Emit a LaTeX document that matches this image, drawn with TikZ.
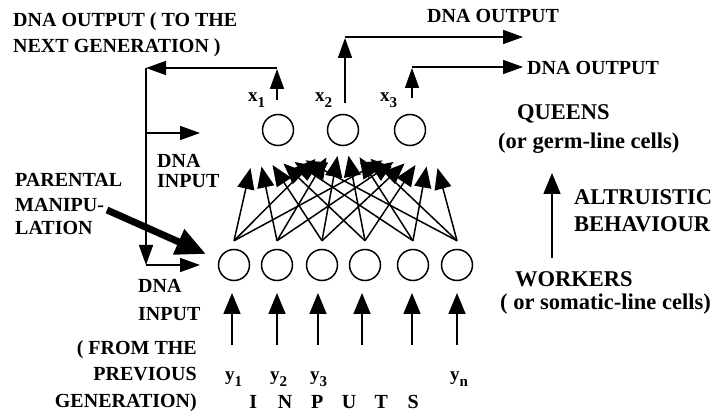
\documentclass[tikz,border=0pt]{standalone}
\usepackage{fontspec}
\setmainfont{Liberation Serif}
\usetikzlibrary{arrows.meta}
\begin{document}
\begin{tikzpicture}[x=1pt,y=-1pt,
  lbl/.style={inner sep=0pt, anchor=base west, font=\bfseries\fontsize{20}{24}\selectfont},
  lblr/.style={lbl, anchor=base east},
  biglbl/.style={lbl, font=\bfseries\fontsize{22.5}{26}\selectfont},
  varlbl/.style={inner sep=0pt, anchor=base west, font=\bfseries\fontsize{19}{22}\selectfont},
  neuron/.style={draw, circle, line width=1.5pt, minimum size=31pt, inner sep=0pt},
  arr/.style={line width=1.6pt, -{Triangle[length=20pt,width=14pt]}},
  inarr/.style={line width=1.6pt, -{Triangle[length=21pt,width=17pt]}},
  netarr/.style={line width=1.5pt, -{Triangle[length=21pt,width=17pt]}},
  bigarr/.style={line width=7pt, -{Triangle[length=30pt,width=26pt]}}
]
\useasboundingbox (0,0) rectangle (717,419);

% subscripted variable names
\newcommand{\vsub}[2]{#1\raisebox{-6pt}{\fontsize{15}{15}\selectfont #2}}

% ---- neurons ----
\node[neuron] (t1) at (278,130) {};
\node[neuron] (t2) at (343,130) {};
\node[neuron] (t3) at (410,130) {};
\foreach \i/\bx in {1/234,2/277,3/322,4/365,5/413,6/457}
  \node[neuron] (b\i) at (\bx,265) {};

% ---- connections between layers ----
\foreach \i in {1,...,6} {
  \foreach \j/\tx in {1/278,2/343,3/410} {
    \pgfmathsetmacro\ex{\tx+(\i-3.5)*11}
    \pgfmathsetmacro\ey{155+0.14*abs(\ex-344)}
    \coordinate (e\i\j) at (\ex,\ey);
    \draw[netarr] ([yshift=8pt]b\i.north) -- (e\i\j);
  }
}

% ---- outputs ----
\coordinate (x1s) at (277,100);
\coordinate (x1c) at (277,68);
\coordinate (left) at (146,68);
\coordinate (leftmid) at (146,133);
\coordinate (leftlow) at (146,265);
\coordinate (inmid) at (200,133);
\coordinate (inlow) at (200,265);
\draw[arr] (x1s) -- ([yshift=-1pt]x1c);
\draw[arr] (x1c) -- (left);
\draw[arr] (left) -- (leftlow);
\draw[arr] (leftmid) -- (inmid);
\draw[arr] (leftlow) -- (inlow);

\coordinate (x2s) at (345,103);
\coordinate (x2c) at (345,37);
\coordinate (x2e) at (523,37);
\draw[arr] (x2s) -- ([yshift=-1pt]x2c);
\draw[arr] (x2c) -- (x2e);

\coordinate (x3s) at (412,98);
\coordinate (x3c) at (412,67);
\coordinate (x3e) at (523,67);
\draw[arr] (x3s) -- ([yshift=-1pt]x3c);
\draw[arr] (x3c) -- (x3e);

% ---- inputs ----
\foreach \i/\ax in {1/232,2/277,3/318,4/362,5/412,6/457} {
  \coordinate (in\i) at (\ax,345);
  \draw[inarr] (in\i) -- (\ax,293);
}

% ---- parental manipulation ----
\coordinate (pm) at (107,210);
\coordinate (pmtip) at (206,254);
\draw[bigarr] (pm) -- (pmtip);

% ---- altruistic behaviour ----
\coordinate (alb) at (552,258);
\coordinate (alt) at (552,173);
\draw[inarr] (alb) -- (alt);

% ---- labels ----
\node[lbl] (l1) at (13,27) {DNA OUTPUT ( TO THE};
\node[lbl] (l2) at (13,53) {NEXT GENERATION )};
\node[lbl] (o2) at (427,23) {DNA OUTPUT};
\node[lbl] (o3) at (527,75) {DNA OUTPUT};
\node[biglbl] (q1) at (517,120) {QUEENS};
\node[biglbl] (q2) at (498,149) {(or germ-line cells)};
\node[biglbl] (a1) at (574,205) {ALTRUISTIC};
\node[biglbl] (a2) at (574,232) {BEHAVIOUR};
\node[biglbl] (w1) at (515,287) {WORKERS};
\node[biglbl] (w2) at (500,310) {( or somatic-line cells)};
\node[lbl] (p1) at (15,187) {PARENTAL};
\node[lbl] (p2) at (15,212) {MANIPU-};
\node[lbl] (p3) at (15,235) {LATION};
\node[lbl] (d1) at (157,168) {DNA};
\node[lbl] (d2) at (157,188) {INPUT};
\node[lbl] (d3) at (138,293) {DNA};
\node[lbl] (d4) at (138,320) {INPUT};
\node[lblr] (f1) at (197,355) {( FROM THE};
\node[lblr] (f2) at (197,380) {PREVIOUS};
\node[lblr] (f3) at (197,407) {GENERATION)};

\node[varlbl] (vx1) at (248,102) {\vsub{x}{1}};
\node[varlbl] (vx2) at (315,102) {\vsub{x}{2}};
\node[varlbl] (vx3) at (380,102) {\vsub{x}{3}};
\node[varlbl] (vy1) at (225,380) {\vsub{y}{1}};
\node[varlbl] (vy2) at (270,380) {\vsub{y}{2}};
\node[varlbl] (vy3) at (310,380) {\vsub{y}{3}};
\node[varlbl] (vyn) at (450,380) {\vsub{y}{n}};

\node[lbl] (inputs) at (237,408) {\makebox[32pt]{I}\makebox[32pt]{N}\makebox[32pt]{P}\makebox[32pt]{U}\makebox[32pt]{T}\makebox[32pt]{S}};
\end{tikzpicture}
\end{document}
